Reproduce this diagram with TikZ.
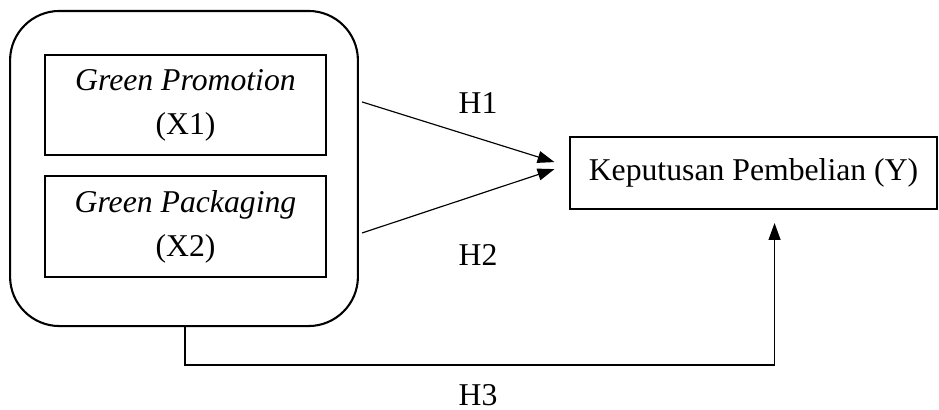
\documentclass[tikz,border=0pt]{standalone}
\usepackage{fontspec}
\setmainfont{Liberation Serif}
\usetikzlibrary{arrows.meta,positioning,calc}

\begin{document}
\begin{tikzpicture}[x=0.01352cm,y=-0.01352cm,
  font=\fontsize{12.2}{17}\selectfont,
  varbox/.style={draw,line width=0.8pt,minimum width=108.1pt,minimum height=38.8pt,align=center,inner sep=0pt},
  groupbox/.style={draw,line width=0.8pt,rounded corners=19pt,minimum width=133.8pt,minimum height=121.2pt,inner sep=0pt},
  outbox/.style={draw,line width=0.8pt,minimum width=141.5pt,minimum height=27.7pt,inner sep=0pt},
  hyp/.style={line width=0.45pt,-{Triangle[length=6.5pt,width=4.6pt]}}]
  \useasboundingbox (0,0) rectangle (939,409);

  % Independent variables
  \node[groupbox] (grp) at (184,168.5) {};
  \node[varbox] (x1) at (185.5,105) {\textit{Green Promotion}\\(X1)};
  \node[varbox] (x2) at (185.5,226.5) {\textit{Green Packaging}\\(X2)};

  % Dependent variable
  \node[outbox] (kp) at (753.5,173) {Keputusan Pembelian (Y)};

  % Hypotheses
  \draw[hyp] ([xshift=1.2pt,yshift=25.6pt]grp.east) -- ([xshift=-5.4pt,yshift=4.2pt]kp.west);
  \draw[hyp] ([xshift=1.2pt,yshift=-24.8pt]grp.east) -- ([xshift=-5.4pt,yshift=1.5pt]kp.west);
  \coordinate (c3) at (185,365);
  \draw[hyp] (grp.south -| c3) -- (c3) -| ([xshift=8.1pt,yshift=-5pt]kp.south);

  \node (h1) at (478,103) {H1};
  \node (h2) at (478,255) {H2};
  \node (h3) at (478,395) {H3};
\end{tikzpicture}
\end{document}
